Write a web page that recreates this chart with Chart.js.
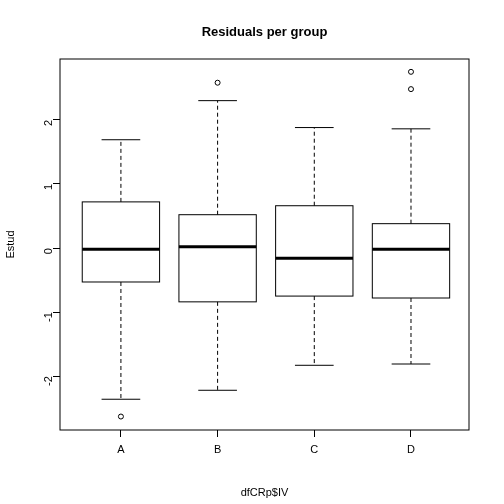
<!DOCTYPE html>
<html lang="en">
<head>
<meta charset="UTF-8">
<title>Residuals per group</title>
<script src="https://cdn.jsdelivr.net/npm/chart.js@4.4.0/dist/chart.umd.min.js"></script>
<style>
  html, body { margin: 0; padding: 0; background: #fff; }
  #wrap { width: 504px; height: 504px; }
</style>
</head>
<body>
<div id="wrap"><canvas id="myChart" width="504" height="504"></canvas></div>
<script>
// groups and box statistics
var groups = ['A', 'B', 'C', 'D'];
var whiskerLow = [-2.36, -2.22, -1.83, -1.81];
var q1 = [-0.53, -0.84, -0.75, -0.78];
var median = [-0.02, 0.02, -0.16, -0.02];
var q3 = [0.72, 0.52, 0.66, 0.38];
var whiskerHigh = [1.69, 2.30, 1.88, 1.86];
var outlierGroup = [1, 2, 4, 4];
var outlierValue = [-2.63, 2.58, 2.75, 2.48];

var font = 'Liberation Sans, Arial, sans-serif';

var outliers = outlierGroup.map(function (g, i) {
    return { x: g, y: outlierValue[i] };
});

// draws boxes, whiskers, frame and title using the chart's scales
var boxPlugin = {
    id: 'boxes',
    afterDatasetsDraw: function (chart) {
        var ctx = chart.ctx, xs = chart.scales.x, ys = chart.scales.y;
        var area = chart.chartArea;
        ctx.save();
        ctx.strokeStyle = '#000';
        groups.forEach(function (g, i) {
            var c = xs.getPixelForValue(i + 1);
            var hw = xs.getPixelForValue(i + 1.4) - c;
            var cw = hw / 2;
            var yLo = ys.getPixelForValue(whiskerLow[i]);
            var yQ1 = ys.getPixelForValue(q1[i]);
            var yMed = ys.getPixelForValue(median[i]);
            var yQ3 = ys.getPixelForValue(q3[i]);
            var yHi = ys.getPixelForValue(whiskerHigh[i]);
            // dashed whiskers
            ctx.lineWidth = 1;
            ctx.setLineDash([4, 3]);
            ctx.beginPath();
            ctx.moveTo(c, yQ3); ctx.lineTo(c, yHi);
            ctx.moveTo(c, yQ1); ctx.lineTo(c, yLo);
            ctx.stroke();
            ctx.setLineDash([]);
            // caps
            ctx.beginPath();
            ctx.moveTo(c - cw, yHi); ctx.lineTo(c + cw, yHi);
            ctx.moveTo(c - cw, yLo); ctx.lineTo(c + cw, yLo);
            ctx.stroke();
            // box
            ctx.strokeRect(c - hw, yQ3, 2 * hw, yQ1 - yQ3);
            // median
            ctx.lineWidth = 3;
            ctx.beginPath();
            ctx.moveTo(c - hw, yMed); ctx.lineTo(c + hw, yMed);
            ctx.stroke();
        });
        // frame
        ctx.lineWidth = 1;
        ctx.strokeRect(area.left, area.top, area.right - area.left, area.bottom - area.top);
        // title
        ctx.fillStyle = '#000';
        ctx.font = 'bold 13px ' + font;
        ctx.textAlign = 'center';
        ctx.textBaseline = 'middle';
        ctx.fillText('Residuals per group', (area.left + area.right) / 2, 32);
        ctx.restore();
    }
};

var ctx = document.getElementById('myChart').getContext('2d');
var myChart = new Chart(ctx, {
    type: 'scatter',
    data: {
        datasets: [{
            data: outliers,
            pointRadius: 2.5,
            pointBorderColor: '#000',
            pointBackgroundColor: 'rgba(0,0,0,0)',
            pointBorderWidth: 1
        }]
    },
    options: {
        responsive: false,
        animation: false,
        layout: { padding: { top: 59, right: 35, left: 0, bottom: 0 } },
        plugins: { legend: { display: false }, tooltip: { enabled: false } },
        scales: {
            x: {
                type: 'linear',
                min: 0.37,
                max: 4.6,
                afterBuildTicks: function (s) {
                    s.ticks = [1, 2, 3, 4].map(function (v) { return { value: v }; });
                },
                afterFit: function (s) { s.height = 74; },
                ticks: {
                    color: '#000',
                    font: { family: font, size: 11 },
                    padding: 6,
                    callback: function (v) { return groups[v - 1]; }
                },
                grid: { drawOnChartArea: false, tickLength: 7, color: '#000' },
                border: { display: false },
                title: { display: true, text: 'dfCRp$IV', color: '#000', font: { family: font, size: 11 }, padding: { top: 8 } }
            },
            y: {
                min: -2.84,
                max: 2.95,
                afterBuildTicks: function (s) {
                    s.ticks = [-2, -1, 0, 1, 2].map(function (v) { return { value: v }; });
                },
                afterFit: function (s) { s.width = 60; },
                ticks: {
                    color: '#000',
                    font: { family: font, size: 11 },
                    minRotation: 90,
                    maxRotation: 90,
                    padding: 4
                },
                grid: { drawOnChartArea: false, tickLength: 7, color: '#000' },
                border: { display: false },
                title: { display: true, text: 'Estud', color: '#000', font: { family: font, size: 11 }, padding: { bottom: 14 } }
            }
        }
    },
    plugins: [boxPlugin]
});
</script>
</body>
</html>
